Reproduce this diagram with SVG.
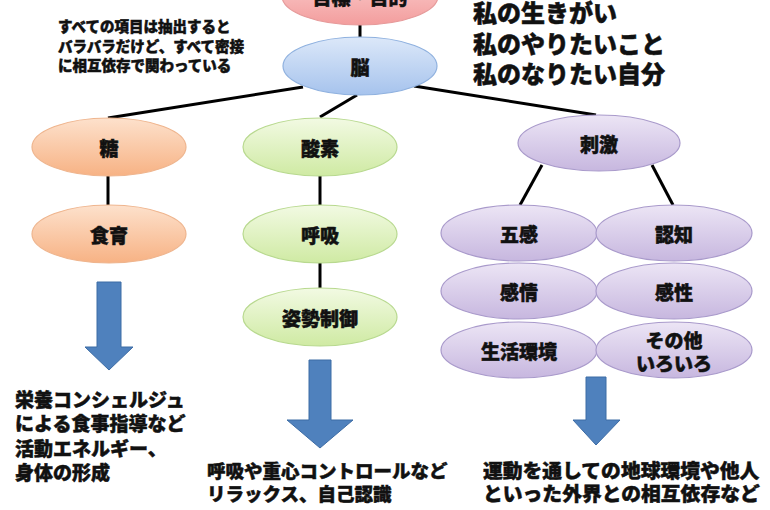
<svg xmlns="http://www.w3.org/2000/svg" width="770" height="510" viewBox="0 0 770 510">
<defs>
<linearGradient id="gPink" x1="0" y1="0" x2="0" y2="1"><stop offset="0" stop-color="#fcd6d6"/><stop offset="1" stop-color="#f39d9d"/></linearGradient>
<linearGradient id="gBlue" x1="0" y1="0" x2="0" y2="1"><stop offset="0" stop-color="#dce8f9"/><stop offset="1" stop-color="#a6c3ed"/></linearGradient>
<linearGradient id="gOrange" x1="0" y1="0" x2="0" y2="1"><stop offset="0" stop-color="#fde1cc"/><stop offset="1" stop-color="#f7b284"/></linearGradient>
<linearGradient id="gGreen" x1="0" y1="0" x2="0" y2="1"><stop offset="0" stop-color="#f2fae3"/><stop offset="1" stop-color="#cfeaa3"/></linearGradient>
<linearGradient id="gPurple" x1="0" y1="0" x2="0" y2="1"><stop offset="0" stop-color="#ece5f5"/><stop offset="1" stop-color="#c7b7df"/></linearGradient>
</defs>
<style>
text{font-family:"Noto Sans CJK JP","Noto Sans CJK SC",sans-serif;font-weight:900;fill:#111;stroke:#111;stroke-width:0.5}
.lbl{font-size:19px;text-anchor:middle;dominant-baseline:central}
.pink{fill:url(#gPink);stroke:#e69a9a;stroke-width:1.2}
.blue{fill:url(#gBlue);stroke:#8fb1df;stroke-width:1.2}
.orange{fill:url(#gOrange);stroke:#efb58e;stroke-width:1.2}
.green{fill:url(#gGreen);stroke:#b8d98f;stroke-width:1.2}
.purple{fill:url(#gPurple);stroke:#a99acb;stroke-width:1.2}
.ln{stroke:#000;stroke-width:3;fill:none}
.arrow{fill:#4f81bd;stroke:#3d6ca5;stroke-width:1}
</style>
<rect width="770" height="510" fill="#fff"/>
<g id="connectors">
<line class="ln" x1="360" y1="25" x2="360" y2="38"/>
<line class="ln" x1="303" y1="87" x2="108" y2="118"/>
<line class="ln" x1="357" y1="95" x2="320" y2="117"/>
<line class="ln" x1="414" y1="86" x2="596" y2="115"/>
<line class="ln" x1="108" y1="176" x2="108" y2="205"/>
<line class="ln" x1="320" y1="176" x2="320" y2="205"/>
<line class="ln" x1="320" y1="263" x2="320" y2="288"/>
<line class="ln" x1="542" y1="165" x2="520" y2="205"/>
<line class="ln" x1="652" y1="165" x2="673" y2="205"/>
</g>
<g id="goal"><ellipse class="pink" cx="360" cy="-4" rx="78" ry="29"/><text x="360" y="5" style="font-size:19px;text-anchor:middle">目標・目的</text></g>
<g id="brain"><ellipse class="blue" cx="360" cy="66" rx="77" ry="29"/><text class="lbl" x="360" y="66">脳</text></g>
<g id="sugar"><ellipse class="orange" cx="109" cy="147" rx="77" ry="29"/><text class="lbl" x="109" y="147">糖</text></g>
<g id="shokuiku"><ellipse class="orange" cx="109" cy="234" rx="77" ry="29"/><text class="lbl" x="109" y="234">食育</text></g>
<g id="oxygen"><ellipse class="green" cx="320" cy="147" rx="77" ry="29"/><text class="lbl" x="320" y="147">酸素</text></g>
<g id="breath"><ellipse class="green" cx="320" cy="234" rx="77" ry="29"/><text class="lbl" x="320" y="234">呼吸</text></g>
<g id="posture"><ellipse class="green" cx="320" cy="317" rx="77" ry="29"/><text class="lbl" x="320" y="317">姿勢制御</text></g>
<g id="stimulus"><ellipse class="purple" cx="599" cy="143" rx="81" ry="28"/><text class="lbl" x="599" y="143">刺激</text></g>
<g id="gokan"><ellipse class="purple" cx="519" cy="233" rx="78" ry="28"/><text class="lbl" x="519" y="233">五感</text></g>
<g id="ninchi"><ellipse class="purple" cx="674" cy="233" rx="78" ry="28"/><text class="lbl" x="674" y="233">認知</text></g>
<g id="kanjou"><ellipse class="purple" cx="519" cy="291" rx="78" ry="28"/><text class="lbl" x="519" y="291">感情</text></g>
<g id="kansei"><ellipse class="purple" cx="674" cy="291" rx="78" ry="28"/><text class="lbl" x="674" y="291">感性</text></g>
<g id="seikatsu"><ellipse class="purple" cx="519" cy="350" rx="78" ry="28"/><text class="lbl" x="519" y="350">生活環境</text></g>
<g id="sonota"><ellipse class="purple" cx="674" cy="350" rx="78" ry="28"/><text class="lbl"><tspan x="674" y="339">その他</tspan><tspan x="674" y="362">いろいろ</tspan></text></g>
<g id="arrows">
<polygon class="arrow" points="97,282 121,282 121,347 133,347 109,370 85,347 97,347"/>
<polygon class="arrow" points="309,360 331,360 331,420 353,420 320,448 287,420 309,420"/>
<polygon class="arrow" points="586,377 606,377 606,420 620,420 596,445 573,420 586,420"/>
</g>
<g id="note" style="font-size:14.5px">
<text x="58" y="32">すべての項目は抽出すると</text>
<text x="58" y="52">バラバラだけど、すべて密接</text>
<text x="58" y="71">に相互依存で関わっている</text>
</g>
<g id="purpose" style="font-size:24px">
<text x="473" y="22" style="font-size:24px">私の生きがい</text>
<text x="473" y="53" style="font-size:24px">私のやりたいこと</text>
<text x="473" y="83" style="font-size:24px">私のなりたい自分</text>
</g>
<g id="desc-sugar">
<text x="15" y="407" style="font-size:19px">栄養コンシェルジュ</text>
<text x="15" y="431" style="font-size:19px">による食事指導など</text>
<text x="15" y="456" style="font-size:19px">活動エネルギー、</text>
<text x="15" y="480" style="font-size:19px">身体の形成</text>
</g>
<g id="desc-oxygen">
<text x="207" y="478" style="font-size:18.5px">呼吸や重心コントロールなど</text>
<text x="207" y="501" style="font-size:18.5px">リラックス、自己認識</text>
</g>
<g id="desc-stimulus">
<text x="483" y="478" style="font-size:19.8px">運動を通しての地球環境や他人</text>
<text x="483" y="501" style="font-size:19.8px">といった外界との相互依存など</text>
</g>
</svg>
